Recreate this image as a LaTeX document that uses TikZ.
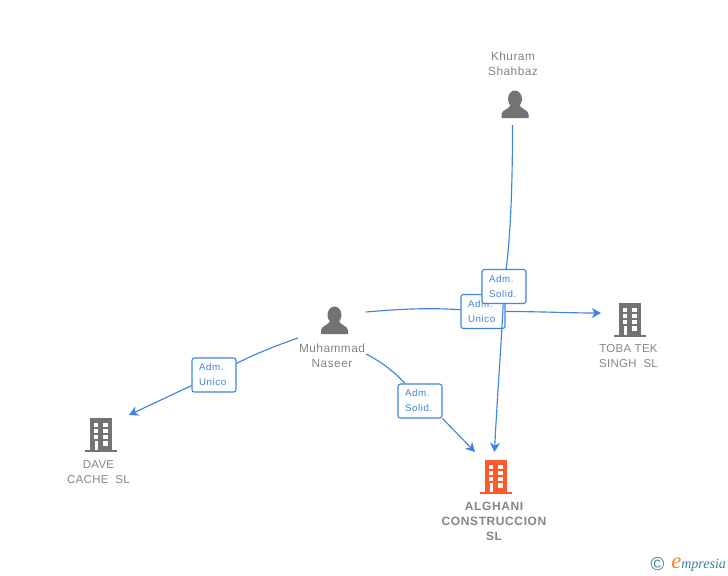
\documentclass[tikz,border=0pt]{standalone}
\usepackage{fontspec}
\setmainfont{Liberation Sans}
\newfontfamily\logofont{Liberation Serif}
\usetikzlibrary{arrows.meta}
\definecolor{linkblue}{HTML}{3F83E0}
\definecolor{nodegray}{HTML}{737373}
\definecolor{namegray}{HTML}{858585}
\definecolor{mainorange}{HTML}{FF5A2C}
\definecolor{logoteal}{HTML}{3B7F99}
\definecolor{logoorange}{HTML}{F28A1E}
\tikzset{
  pics/building/.style={code={
    \fill[#1] (-11,-17) rectangle (11,15);
    \fill[#1] (-16,14.7) rectangle (16,16.5);
    \foreach \yy in {-12,-6,0} {
      \fill[white] (-7,\yy) rectangle (-2.7,\yy+4);
      \fill[white] (2.3,\yy) rectangle (6.7,\yy+4);
    }
    \fill[white] (-6.5,6) rectangle (-2.7,15);
    \fill[white] (2.3,6) rectangle (6.7,11);
  }},
  pics/person/.style={code={
    \fill[nodegray] (0,-5) ellipse (7 and 8.5);
    \fill[nodegray] (-13.5,14) -- (-13.5,10) .. controls (-13,5.5) and (-6,5.5) .. (-4.5,1)
      -- (4.5,1) .. controls (6,5.5) and (13,5.5) .. (13.5,10) -- (13.5,14) -- cycle;
  }},
  plainname/.style={text=namegray,font=\fontsize{8.9pt}{11.25pt}\selectfont\addfontfeature{LetterSpace=4},align=center,inner sep=0pt},
  companyname/.style={text=namegray,font=\fontsize{8.6pt}{11.25pt}\selectfont\addfontfeature{LetterSpace=2.5},align=center,inner sep=0pt},
  mainname/.style={text=namegray,font=\fontsize{9pt}{11.25pt}\selectfont\bfseries\addfontfeature{LetterSpace=5},align=center,inner sep=0pt},
  rolebox/.style={draw=linkblue,fill=white,line width=0.8pt,rounded corners=1.8pt,text=linkblue,
    font=\fontsize{7.3pt}{11.25pt}\selectfont\addfontfeature{LetterSpace=6},align=left,inner sep=0pt,
    text width=22.5pt,minimum width=33pt,minimum height=25.5pt},
  link/.style={draw=linkblue,line width=0.85pt},
  linkarrow/.style={link,-{Stealth[length=7pt,width=7.5pt,inset=2.2pt]}}
}
\begin{document}
\begin{tikzpicture}[x=0.75pt,y=-0.75pt]
\useasboundingbox (0,0) rectangle (728,575);
% people
\pic at (515,104) {person};
\pic at (334.5,320) {person};
\node[plainname] (khuram) at (513,63.5) {Khuram\\Shahbaz};
\node[plainname] (muhammad) at (332,355.5) {Muhammad\\Naseer};
% companies
\pic at (630,320) {building=nodegray};
\pic at (101,435) {building=nodegray};
\pic at (496,477) {building=mainorange};
\node[companyname] (toba) at (628.5,356.5) {TOBA TEK\\SINGH\ \ SL};
\node[companyname] (dave) at (98.5,472.5) {DAVE\\CACHE\ \ SL};
\node[mainname] (alghani) at (494,521) {ALGHANI\\CONSTRUCCION\\SL};
% role boxes
\node[rolebox] (unicoleft) at (214,375) {Adm.\\Unico};
\node[rolebox] (unicoright) at (483,311.5) {Adm.\\Unico};
\node[rolebox] (solidtop) at (504,286.5) {Adm.\\Solid.};
\node[rolebox] (solidlow) at (420,401) {Adm.\\Solid.};
% free ends
\coordinate (khuramout) at (512.5,125);
\coordinate (muhleft) at (298,338);
\coordinate (muhright) at (366,312);
\coordinate (muhlow) at (366,354);
\coordinate (daveend) at (129,415);
\coordinate (tobaend) at (601,313);
\coordinate (alghanileft) at (475,452);
\coordinate (alghanitop) at (494.5,452);
% links
\draw[link] (khuramout) .. controls (512.5,180) and (511,230) .. (solidtop);
\draw[linkarrow] (solidtop) .. controls (501,350) and (497,400) .. (alghanitop);
\draw[link] (muhright) .. controls (400,309) and (430,307.5) .. (unicoright);
\draw[linkarrow] (unicoright) .. controls (540,311.5) and (570,313) .. (tobaend);
\draw[link] (muhleft) .. controls (275,346) and (255,354) .. (unicoleft);
\draw[linkarrow] (unicoleft) -- (daveend);
\draw[link] (muhlow) .. controls (380,361) and (395,372) .. (solidlow);
\draw[linkarrow] (solidlow.south east) -- (alghanileft);
% logo
\node[text=logoteal,inner sep=0pt,font=\fontsize{14pt}{14pt}\selectfont] (copyr) at (657.5,564) {©};
\node[text=logoteal,inner sep=0pt,anchor=base west,font=\logofont\fontsize{10.5pt}{10.5pt}\selectfont\itshape] (logo) at (671,568.5) {{\color{logoorange}\fontsize{17pt}{17pt}\selectfont e}mpresia};
\end{tikzpicture}
\end{document}
